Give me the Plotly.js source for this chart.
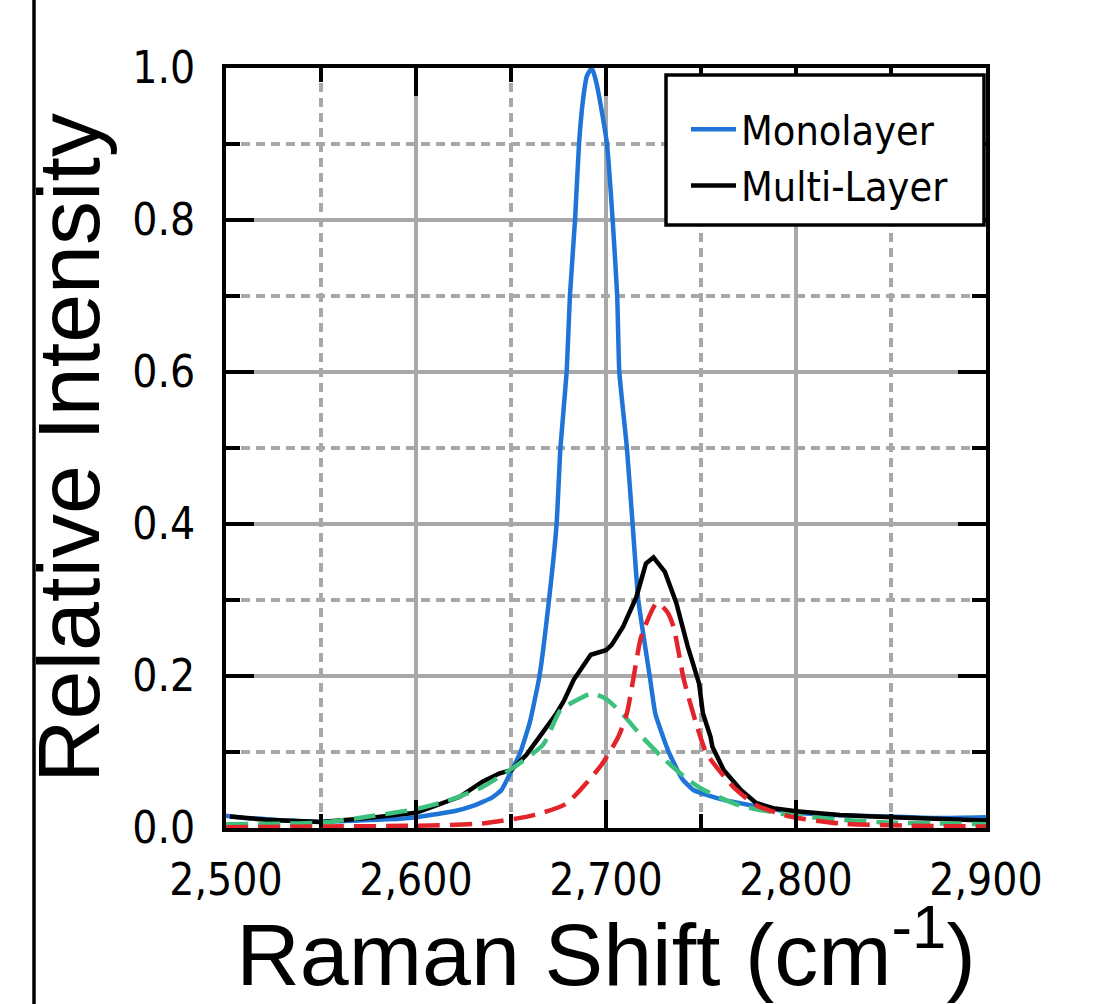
<!DOCTYPE html>
<html>
<head>
<meta charset="utf-8">
<script src="https://cdn.plot.ly/plotly-3.0.1.min.js"></script>
<style>html,body{margin:0;padding:0;background:#fff;}#chart{width:1093px;height:1004px;}</style>
</head>
<body>
<div id="chart"></div>
<script>
// Monolayer (blue)
const monoX = [2500,2510,2520,2530,2540,2550,2560,2570,2580,2590,2600,2610,2620,2630,2640,2645,2650,2655,2660,2665,2670,2674,2676,2679.3,2681,2683.7,2685.8,2688,2690,2692.6,2695,2698,2700.5,2703.5,2705.9,2707,2711,2714,2717,2723,2726,2733,2740,2746,2755,2762,2776,2790,2800,2820,2850,2875,2900];
const monoY = [0.016,0.013,0.012,0.010,0.009,0.008,0.009,0.010,0.011,0.012,0.014,0.018,0.022,0.029,0.040,0.050,0.074,0.100,0.140,0.200,0.300,0.400,0.500,0.600,0.700,0.800,0.900,0.960,0.990,1.000,0.980,0.940,0.900,0.800,0.700,0.600,0.500,0.400,0.300,0.200,0.150,0.100,0.065,0.050,0.042,0.037,0.030,0.024,0.020,0.017,0.015,0.013,0.014];

// Multi-Layer (black)
const multiX = [2502,2521,2550,2574,2600,2609,2623,2635,2644,2650,2658,2665,2674,2678,2683,2692,2700,2703,2709,2716,2721,2725,2731,2737,2743,2749,2751,2755,2756,2762,2771,2779,2788,2800,2823,2850,2876,2900];
const multiY = [0.015,0.011,0.008,0.013,0.020,0.028,0.041,0.061,0.072,0.076,0.096,0.120,0.151,0.168,0.195,0.228,0.234,0.241,0.265,0.304,0.348,0.356,0.337,0.296,0.239,0.190,0.151,0.120,0.107,0.076,0.050,0.033,0.026,0.022,0.017,0.014,0.012,0.010];

// Fit component 1 (green dashed)
const fit1X = [2500,2550,2575,2600,2618,2635,2651,2667,2676,2686,2692.5,2700,2709,2719,2730,2741,2750,2770,2797,2823,2850,2875,2900];
const fit1Y = [0.005,0.007,0.015,0.025,0.037,0.054,0.079,0.110,0.155,0.170,0.177,0.170,0.149,0.120,0.092,0.068,0.052,0.030,0.017,0.011,0.007,0.006,0.005];

// Fit component 2 (red dashed)
const fit2X = [2500,2550,2600,2635,2662,2679,2697,2706.5,2711,2718,2720,2726.7,2732,2735.5,2741,2748,2753,2767,2779,2797,2823,2860,2900];
const fit2Y = [0.001,0.002,0.003,0.006,0.017,0.032,0.081,0.120,0.151,0.247,0.262,0.296,0.285,0.265,0.195,0.133,0.098,0.054,0.030,0.015,0.006,0.003,0.002];

const xTickVals = [2500,2600,2700,2800,2900];
const xTickText = ['2,500','2,600','2,700','2,800','2,900'];
const yTickVals = [0,0.2,0.4,0.6,0.8,1.0];
const yTickText = ['0.0','0.2','0.4','0.6','0.8','1.0'];

const tickFont = {family: 'DejaVu Sans Condensed, DejaVu Sans, sans-serif', size: 44, color: '#000'};
const titleFont = {family: 'Liberation Sans, Arial, sans-serif', size: 88, color: '#000'};
const gridCol = '#a8a8ab';

const traces = [
  {x: monoX, y: monoY, type: 'scatter', mode: 'lines', name: 'Monolayer', line: {color: '#1f74d8', width: 4.5, shape: 'spline', smoothing: 0.4}},
  {x: multiX, y: multiY, type: 'scatter', mode: 'lines', name: 'Multi-Layer', line: {color: '#000000', width: 4.5}},
  {x: fit1X, y: fit1Y, type: 'scatter', mode: 'lines', name: 'Fit 1', showlegend: false, line: {color: '#3cc07c', width: 4.5, dash: '22px,10px', shape: 'spline', smoothing: 0.6}},
  {x: fit2X, y: fit2Y, type: 'scatter', mode: 'lines', name: 'Fit 2', showlegend: false, line: {color: '#e3242b', width: 4.5, dash: '22px,10px', shape: 'spline', smoothing: 0.6}}
];

const layout = {
  width: 1093, height: 1004,
  margin: {l: 226, r: 107, t: 68, b: 176},
  paper_bgcolor: '#fff', plot_bgcolor: '#fff',
  showlegend: true,
  legend: {
    x: (686 - 226) / 760, xanchor: 'left',
    y: (828 - 96) / 760, yanchor: 'top',
    bgcolor: 'rgba(0,0,0,0)', borderwidth: 0,
    itemwidth: 45,
    font: {family: 'DejaVu Sans Condensed, DejaVu Sans, sans-serif', size: 41, color: '#000'},
    tracegroupgap: 0
  },
  xaxis: {
    range: [2500, 2900], tickmode: 'array', tickvals: xTickVals, ticktext: xTickText,
    ticks: 'inside', ticklen: 28, tickwidth: 4, tickcolor: '#000',
    showline: true, linecolor: '#000', linewidth: 4, mirror: 'ticks',
    showgrid: true, gridcolor: gridCol, gridwidth: 3.5, zeroline: false,
    minor: {dtick: 50, tick0: 2500, ticks: 'inside', ticklen: 14, tickwidth: 4, tickcolor: '#000', showgrid: true, gridcolor: gridCol, gridwidth: 3.5, griddash: '9px,6px'},
    tickfont: tickFont, ticklabelstandoff: 10,
    title: {text: 'Raman Shift (cm<sup>-1</sup>)', font: titleFont, standoff: 4},
    automargin: false
  },
  yaxis: {
    range: [0, 1.0], tickmode: 'array', tickvals: yTickVals, ticktext: yTickText,
    ticks: 'inside', ticklen: 28, tickwidth: 4, tickcolor: '#000',
    showline: true, linecolor: '#000', linewidth: 4, mirror: 'ticks',
    showgrid: true, gridcolor: gridCol, gridwidth: 3.5, zeroline: false,
    minor: {dtick: 0.1, tick0: 0, ticks: 'inside', ticklen: 14, tickwidth: 4, tickcolor: '#000', showgrid: true, gridcolor: gridCol, gridwidth: 3.5, griddash: '9px,6px'},
    tickfont: tickFont, ticklabelstandoff: 18,
    title: {text: 'Relative Intensity', font: titleFont, standoff: 4},
    automargin: false
  },
  shapes: [
    {type: 'rect', xref: 'paper', yref: 'paper', layer: 'above',
     x0: (666 - 226) / 760, x1: (984 - 226) / 760, y0: (828 - 225) / 760, y1: (828 - 75) / 760,
     fillcolor: '#ffffff', line: {color: '#000', width: 3.5}},
    {type: 'line', xref: 'paper', yref: 'paper', layer: 'above',
     x0: (34 - 226) / 760, x1: (34 - 226) / 760, y0: (828 - 1010) / 760, y1: (828 + 10) / 760,
     line: {color: '#000', width: 3.5}}
  ]
};

Plotly.newPlot('chart', traces, layout, {staticPlot: true, displayModeBar: false});
</script>
</body>
</html>
